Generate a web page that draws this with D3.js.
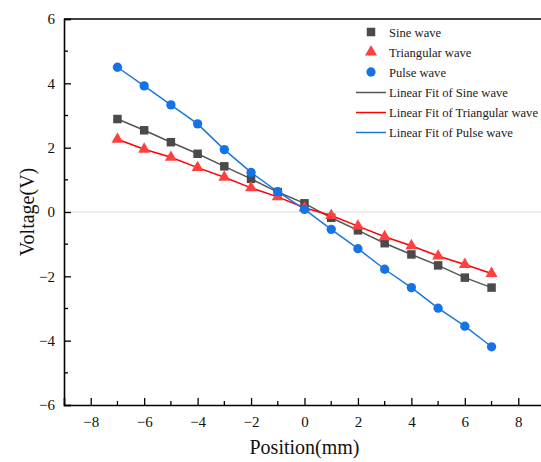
<!DOCTYPE html>
<html>
<head>
<meta charset="utf-8">
<script src="https://cdn.jsdelivr.net/npm/d3@7"></script>
<style>
  html, body { margin: 0; padding: 0; background: #fff; }
  svg { display: block; }
  svg text { font-family: "Liberation Serif", "Times New Roman", serif; }
</style>
</head>
<body>
<script>
// Measured voltages at each probe position for three excitation waveforms
const positions = [-7, -6, -5, -4, -3, -2, -1, 0, 1, 2, 3, 4, 5, 6, 7];
const sineValues = [2.89, 2.54, 2.17, 1.81, 1.42, 1.03, 0.62, 0.27, -0.18, -0.57, -0.97, -1.32, -1.66, -2.04, -2.35];
const triangleValues = [2.26, 1.95, 1.70, 1.38, 1.08, 0.75, 0.47, 0.13, -0.11, -0.44, -0.77, -1.05, -1.37, -1.63, -1.91];
const pulseValues = [4.50, 3.92, 3.33, 2.74, 1.94, 1.23, 0.63, 0.08, -0.54, -1.14, -1.78, -2.35, -2.99, -3.55, -4.19];

const xTicks = [-8, -6, -4, -2, 0, 2, 4, 6, 8];
const yTicks = [-6, -4, -2, 0, 2, 4, 6];
const seriesNames = ["Sine wave", "Triangular wave", "Pulse wave"];
const fitNames = ["Linear Fit of Sine wave", "Linear Fit of Triangular wave", "Linear Fit of Pulse wave"];

const W = 541, H = 462;
const margin = { left: 64, top: 19, bottom: 57 };
const plotRight = 545;

const svg = d3.select("body").append("svg").attr("width", W).attr("height", H);

const x = d3.scaleLinear().domain([-9, 9]).range([margin.left, plotRight]);
const y = d3.scaleLinear().domain([-6, 6]).range([H - margin.bottom, margin.top]);

const series = [
  { name: seriesNames[0], fit: fitNames[0], values: sineValues, marker: "#4a4a4a", line: "#555555", symbol: d3.symbolSquare, size: 72 },
  { name: seriesNames[1], fit: fitNames[1], values: triangleValues, marker: "#ff4040", line: "#ff0000", symbol: d3.symbolTriangle, size: 62 },
  { name: seriesNames[2], fit: fitNames[2], values: pulseValues, marker: "#1673e6", line: "#1a78dc", symbol: d3.symbolCircle, size: 68 }
];

// zero reference line
svg.append("line")
  .attr("x1", x(-9)).attr("x2", x(9))
  .attr("y1", y(0)).attr("y2", y(0))
  .attr("stroke", "#dcdcdc").attr("stroke-width", 1);

// axes: ticks point into the plot
const fmt = d => d < 0 ? "\u2212" + Math.abs(d) : d;
const minorX = d3.range(-7, 9, 2);
const minorY = d3.range(-5, 6, 2);

const xAxis = svg.append("g").attr("transform", `translate(0,${y(-6)})`);
xAxis.call(d3.axisBottom(x).tickValues(xTicks).tickSize(-7).tickPadding(11).tickFormat(fmt));
xAxis.append("g").selectAll("line").data(minorX).join("line")
  .attr("x1", d => x(d)).attr("x2", d => x(d)).attr("y1", 0).attr("y2", -4)
  .attr("stroke", "#000").attr("stroke-width", 1.3);

const yAxis = svg.append("g").attr("transform", `translate(${margin.left},0)`);
yAxis.call(d3.axisLeft(y).tickValues(yTicks).tickSize(-7).tickPadding(16).tickFormat(fmt));
yAxis.append("g").selectAll("line").data(minorY).join("line")
  .attr("x1", 0).attr("x2", 4).attr("y1", d => y(d)).attr("y2", d => y(d))
  .attr("stroke", "#000").attr("stroke-width", 1.3);

[xAxis, yAxis].forEach(a => {
  a.attr("font-family", null).attr("font-size", null);
  a.select(".domain").attr("stroke", "#000").attr("stroke-width", 1.6);
  a.selectAll(".tick line").attr("stroke", "#000").attr("stroke-width", 1.3);
  a.selectAll(".tick text").attr("fill", "#111").style("font-size", "15px");
});
yAxis.selectAll(".tick text").attr("x", -9);

// top frame
svg.append("line")
  .attr("x1", margin.left).attr("x2", plotRight)
  .attr("y1", y(6)).attr("y2", y(6))
  .attr("stroke", "#000").attr("stroke-width", 1.6);

// axis titles
svg.append("text")
  .attr("x", x(0)).attr("y", 454)
  .attr("text-anchor", "middle").style("font-size", "20px").attr("fill", "#111")
  .text("Position(mm)");
svg.append("text")
  .attr("transform", `translate(34,${y(0)}) rotate(-90)`)
  .attr("text-anchor", "middle").style("font-size", "20px").attr("fill", "#111")
  .text("Voltage(V)");

// fitted lines and measured points
const line = d3.line().x((d, i) => x(positions[i])).y(d => y(d));
series.forEach(s => {
  svg.append("path").datum(s.values)
    .attr("d", line).attr("fill", "none")
    .attr("stroke", s.line).attr("stroke-width", 1.5);
});
series.forEach(s => {
  svg.append("g").selectAll("path").data(s.values).join("path")
    .attr("transform", (d, i) => `translate(${x(positions[i])},${y(d)})`)
    .attr("d", d3.symbol().type(s.symbol).size(s.size))
    .attr("fill", s.marker);
});

// legend
const lg = svg.append("g").style("font-size", "12.6px");
series.forEach((s, i) => {
  const yy = 32 + i * 20;
  lg.append("path")
    .attr("transform", `translate(371,${yy})`)
    .attr("d", d3.symbol().type(s.symbol).size(s.size))
    .attr("fill", s.marker);
  lg.append("text").attr("x", 389).attr("y", yy + 4.5).attr("fill", "#222").text(s.name);
});
series.forEach((s, i) => {
  const yy = 92.5 + i * 20;
  lg.append("line").attr("x1", 356).attr("x2", 386).attr("y1", yy).attr("y2", yy)
    .attr("stroke", s.line).attr("stroke-width", 1.5);
  lg.append("text").attr("x", 389).attr("y", yy + 4.5).attr("fill", "#222").text(s.fit);
});
</script>
</body>
</html>
